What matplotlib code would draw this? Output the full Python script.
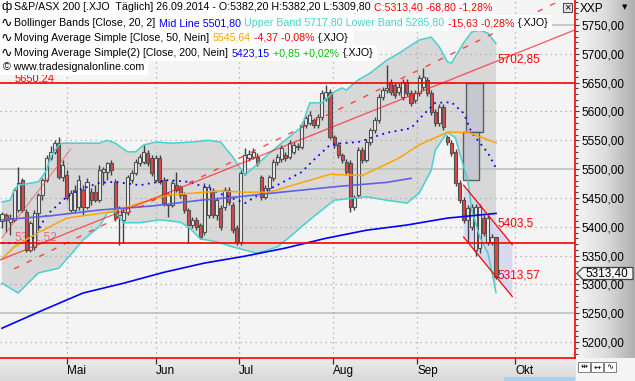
import numpy as np
import matplotlib
matplotlib.use('Agg')
import matplotlib.pyplot as plt
from matplotlib.patches import Rectangle, Polygon
from matplotlib.colors import LinearSegmentedColormap
from matplotlib.ticker import MultipleLocator, FixedLocator, FuncFormatter

plt.rcParams['font.family'] = ['Liberation Sans', 'DejaVu Sans']
plt.rcParams['font.size'] = 7.7

# S&P/ASX 200 daily candles, bar 0 = early April 2014, bar 122 = 26.09.2014
opens = [5410, 5420, 5408, 5412, 5429, 5481, 5426, 5360, 5365, 5424,
         5455, 5481, 5519, 5530, 5545, 5486, 5490, 5429, 5429, 5434,
         5464, 5434, 5460, 5460, 5446, 5495, 5495, 5510, 5478, 5420,
         5412, 5426, 5481, 5493, 5510, 5512, 5528, 5519, 5481, 5519,
         5481, 5438, 5438, 5472, 5469, 5455, 5429, 5403, 5412, 5403,
         5391, 5420, 5460, 5420, 5432, 5434, 5464, 5438, 5398, 5374,
         5493, 5519, 5521, 5521, 5486, 5452, 5467, 5484, 5512, 5517,
         5524, 5521, 5530, 5538, 5538, 5577, 5580, 5585, 5577, 5590,
         5623, 5634, 5556, 5542, 5524, 5512, 5510, 5434, 5455, 5533,
         5516, 5547, 5568, 5585, 5625, 5637, 5651, 5646, 5634, 5625,
         5651, 5632, 5620, 5632, 5643, 5655, 5632, 5599, 5580, 5608,
         5556, 5545, 5530, 5476, 5446, 5412, 5399, 5360, 5363, 5415,
         5374, 5374, 5382.2]
highs = [5426, 5424, 5422, 5467, 5504, 5485, 5430, 5410, 5429, 5459,
         5485, 5524, 5540, 5550, 5556, 5515, 5498, 5464, 5472, 5490,
         5472, 5485, 5467, 5472, 5507, 5504, 5512, 5515, 5483, 5436,
         5430, 5490, 5498, 5517, 5526, 5542, 5533, 5524, 5524, 5524,
         5486, 5460, 5481, 5495, 5472, 5460, 5433, 5417, 5417, 5407,
         5476, 5474, 5467, 5451, 5438, 5469, 5469, 5443, 5403, 5498,
         5536, 5533, 5536, 5528, 5490, 5472, 5490, 5517, 5526, 5541,
         5530, 5550, 5547, 5545, 5582, 5593, 5600, 5589, 5595, 5637,
         5646, 5639, 5560, 5547, 5528, 5517, 5515, 5455, 5538, 5538,
         5552, 5572, 5590, 5630, 5642, 5681, 5656, 5651, 5650, 5656,
         5656, 5637, 5637, 5663, 5675, 5660, 5637, 5604, 5613, 5613,
         5560, 5550, 5535, 5481, 5451, 5437, 5439, 5440, 5439, 5420,
         5420, 5387, 5382.2]
lows = [5398, 5391, 5386, 5408, 5426, 5425, 5356, 5356, 5360, 5395,
        5446, 5477, 5516, 5526, 5483, 5480, 5446, 5425, 5424, 5429,
        5420, 5431, 5438, 5443, 5443, 5472, 5481, 5490, 5410, 5368,
        5371, 5420, 5476, 5490, 5505, 5509, 5505, 5488, 5478, 5474,
        5436, 5417, 5434, 5460, 5450, 5424, 5372, 5398, 5394, 5378,
        5385, 5415, 5415, 5412, 5394, 5429, 5438, 5389, 5369, 5369,
        5490, 5514, 5517, 5505, 5447, 5448, 5462, 5479, 5507, 5512,
        5514, 5517, 5526, 5533, 5535, 5572, 5576, 5572, 5572, 5586,
        5619, 5552, 5537, 5519, 5510, 5490, 5426, 5429, 5450, 5510,
        5512, 5542, 5563, 5580, 5620, 5632, 5629, 5624, 5629, 5620,
        5627, 5610, 5615, 5627, 5638, 5627, 5594, 5575, 5575, 5568,
        5542, 5523, 5471, 5441, 5407, 5371, 5394, 5350, 5354, 5384,
        5368, 5369, 5309.8]
closes = [5422, 5412, 5415, 5464, 5476, 5429, 5360, 5406, 5424, 5455,
          5481, 5519, 5530, 5545, 5486, 5507, 5450, 5458, 5464, 5481,
          5434, 5478, 5446, 5446, 5498, 5500, 5510, 5498, 5415, 5432,
          5426, 5486, 5493, 5512, 5521, 5530, 5510, 5493, 5519, 5478,
          5441, 5455, 5476, 5464, 5455, 5429, 5403, 5412, 5399, 5382,
          5469, 5469, 5420, 5446, 5399, 5464, 5443, 5394, 5374, 5493,
          5524, 5526, 5530, 5510, 5452, 5467, 5486, 5512, 5521, 5537,
          5519, 5545, 5542, 5540, 5577, 5589, 5594, 5577, 5590, 5632,
          5634, 5556, 5542, 5524, 5516, 5495, 5434, 5450, 5533, 5516,
          5547, 5568, 5585, 5625, 5637, 5641, 5634, 5629, 5642, 5651,
          5632, 5615, 5632, 5658, 5660, 5632, 5599, 5580, 5608, 5573,
          5547, 5528, 5476, 5446, 5412, 5432, 5434, 5434, 5434, 5389,
          5415, 5382.2, 5313.4]

# Bollinger Bands (20, 2)
bb_upper_idx = [0, 2, 3, 4, 9, 11, 12, 14, 15, 24, 26, 28, 31, 33, 35, 38, 42, 47, 51, 54,
                57, 60, 62, 65, 69, 74, 76, 79, 82, 84, 85, 88, 91, 95, 98, 103, 106, 108,
                110, 111, 114, 116, 118, 120, 122]
bb_upper = [5443, 5446, 5464, 5472, 5478, 5498, 5521, 5542, 5545, 5545, 5550, 5545, 5530,
            5530, 5542, 5547, 5545, 5547, 5550, 5547, 5521, 5490, 5502, 5521, 5545, 5573,
            5615, 5615, 5634, 5641, 5637, 5655, 5667, 5689, 5701, 5724, 5729, 5712, 5686,
            5684, 5719, 5738, 5741, 5736, 5717.8]
bb_lower_idx = [0, 4, 9, 14, 18, 20, 24, 26, 28, 30, 34, 39, 44, 46, 49, 53, 57, 63, 68, 71,
                76, 82, 90, 95, 100, 103, 106, 107, 110, 112, 113, 115, 116, 118, 120, 121, 122]
bb_lower = [5302, 5285, 5320, 5328, 5360, 5377, 5400, 5424, 5426, 5407, 5407, 5412, 5408,
            5400, 5379, 5374, 5365, 5354, 5365, 5382, 5412, 5446, 5452, 5446, 5441, 5458,
            5498, 5533, 5564, 5554, 5528, 5481, 5429, 5382, 5354, 5320, 5285.8]
bb_mid_idx = [0, 5, 8, 11, 16, 19, 24, 28, 34, 41, 46, 51, 54, 60, 64, 69, 74, 77, 81, 84,
              88, 95, 101, 104, 107, 111, 114, 116, 120, 122]
bb_mid = [5372, 5372, 5382, 5420, 5452, 5464, 5476, 5478, 5472, 5481, 5478, 5467, 5457,
          5441, 5458, 5476, 5495, 5516, 5542, 5545, 5547, 5563, 5571, 5594, 5615, 5616,
          5597, 5563, 5528, 5501.8]

# moving averages
sma50_idx = [0, 3, 9, 16, 27, 34, 41, 54, 60, 66, 81, 89, 98, 103, 110, 115, 122]
sma50 = [5344, 5365, 5390, 5415, 5426, 5441, 5455, 5462, 5460, 5460, 5491, 5489, 5519,
         5542, 5564, 5564, 5545.64]
sma200_idx = [0, 10, 20, 30, 40, 50, 60, 70, 80, 90, 100, 110, 122]
sma200 = [5224, 5255, 5285, 5302, 5321, 5337, 5349, 5363, 5380, 5394, 5403, 5415, 5423.15]
avg_line_idx = [0, 12, 24, 37, 49, 57, 69, 83, 95, 101]
avg_line = [5412, 5419, 5429, 5436, 5446, 5451, 5460, 5470, 5477, 5484]

# drawing tools
hlevels = [5650.24, 5371.52]
trend_solid_idx = [-1, 142]
trend_solid = [5341, 5743]
trend_dash_idx = [3, 138]
trend_dash = [5327, 5793]
trend_steep_idx = [0, 17]
trend_steep = [5381, 5535]
channel_idx = [114, 126]
channel_upper = [5472, 5369]
channel_lower = [5382, 5279]
box_left = [114.6, 113.8]
box_right = [118.8, 117.8]
box_bottom = [5564, 5481]
box_top = [5650, 5564]

months = ['Mai', 'Jun', 'Jul', 'Aug', 'Sep', 'Okt']
month_pos = [16, 38, 58.5, 81.7, 102.5, 126.7]
price_ticks = list(range(5200, 5751, 50))


def de(v, n=2):
    return f"{v:.{n}f}".replace('.', ',')


W, H = 635, 381
fig = plt.figure(figsize=(W / 100, H / 100), dpi=100)
fig.patch.set_facecolor('#f0f0f0')


def fx(px):
    return px / W


def fy(py):
    return 1 - py / H


# panel backgrounds
bg = fig.add_axes([0, 0, 1, 1], zorder=-5)
bg.set_axis_off()
side = LinearSegmentedColormap.from_list('side', ['#f4f4f4', '#dcdcdc', '#b0b0b0'])
bottom = LinearSegmentedColormap.from_list('bottom', ['#ececec', '#d8d8d8'])
bg.imshow(np.linspace(0, 1, 64)[None, :], extent=(576, 635, 381, 0), cmap=side, aspect='auto')
bg.imshow(np.linspace(0, 1, 16)[:, None], extent=(0, 576, 381, 358), cmap=bottom, aspect='auto')
bg.add_patch(Rectangle((576, 358), 59, 23, facecolor='#f4f4f4', edgecolor='none'))
bg.add_patch(Rectangle((504, 377), 71, 4, facecolor='#a8d0f0', edgecolor='none'))
bg.set_xlim(0, W)
bg.set_ylim(H, 0)

ax = fig.add_axes([0, fy(358), 575 / W, 358 / H])
ax.set_facecolor('#f4f4f4')
ax.set_xlim(-0.49, 141.5)
ax.set_ylim(5172.3, 5793.4)

# bollinger fill
ax.fill(bb_upper_idx + bb_lower_idx[::-1], bb_upper + bb_lower[::-1],
        color='#d8d8d8', lw=0, zorder=1)

# grid
for v in price_ticks:
    if v % 250 == 0:
        ax.axhline(v, color='#b4c2b4', lw=1.1, zorder=1.5)
    else:
        ax.axhline(v, color='#a8a8a8', lw=0.9, ls=(0, (1, 3)), zorder=1.5)
for m in month_pos:
    ax.axvline(m, color='#a8a8a8', lw=0.9, ls=(0, (1, 3)), zorder=1.5)

# channel
cx = channel_idx + channel_idx[::-1]
cy = channel_upper + channel_lower[::-1]
ax.fill(cx, cy, color='#d4d4f0', alpha=0.85, lw=0, zorder=2)
ax.plot(channel_idx, channel_upper, color='red', lw=0.9, zorder=4.6)
ax.plot(channel_idx, channel_lower, color='red', lw=0.9, zorder=4.6)

for l, r, b, t in zip(box_left, box_right, box_bottom, box_top):
    ax.add_patch(Rectangle((l, b), r - l, t - b, facecolor='#c6c6d2', edgecolor='#505050',
                           lw=1, alpha=0.9, zorder=2.2))

# candles
for i, (o, h, l, c) in enumerate(zip(opens, highs, lows, closes)):
    ax.plot([i, i], [l, h], color='#404040', lw=1, zorder=3.8, solid_capstyle='butt')
    up = c >= o
    ax.add_patch(Rectangle((i - 0.38, min(o, c)), 0.76, max(abs(c - o), 0.8),
                           facecolor='#eeeeee' if up else '#e04646',
                           edgecolor='#505050', lw=0.8, zorder=4))

# indicators
ax.plot(bb_upper_idx, bb_upper, color='#48d0d0', lw=1.1, zorder=4.2)
ax.plot(bb_lower_idx, bb_lower, color='#48d0d0', lw=1.1, zorder=4.2)
ax.plot(bb_mid_idx, bb_mid, color='#0000ff', lw=1.3, ls=(0, (1, 2.5)), zorder=4.2)
ax.plot(sma50_idx, sma50, color='#ffa500', lw=1.1, zorder=4.2)
ax.plot(sma200_idx, sma200, color='#0000ff', lw=1.2, zorder=4.2)
ax.plot(avg_line_idx, avg_line, color='#6060e8', lw=1.2, zorder=4.2)

# trend lines
ax.plot(trend_solid_idx, trend_solid, color='#ff2020', lw=0.9, alpha=0.75, zorder=4.4)
ax.plot(trend_dash_idx, trend_dash, color='#ff2020', lw=1.0, alpha=0.8, ls=(0, (4, 6)), zorder=4.4)
ax.plot(trend_steep_idx, trend_steep, color='#ff4040', lw=0.8, alpha=0.6, zorder=4.4)
for v in hlevels:
    ax.axhline(v, color='#ff0000', lw=1.2, zorder=4.5)

# level labels
ax.text(3.2, 5658, de(hlevels[0]), color='red', fontsize=8, va='center', zorder=5)
ax.text(3.2, 5381, de(hlevels[1]), color='#e05050', alpha=0.75, fontsize=8.5, va='center', zorder=3.5)
ax.text(122.3, 5691, '5702,85', color='red', fontsize=8.5, va='center', zorder=5)
ax.text(122.3, 5405, '5403,5', color='red', fontsize=8.5, va='center', zorder=5)
ax.text(122.3, 5315, '5313,57', color='red', fontsize=8.5, va='center', zorder=5)

# axes styling
for s in ['left', 'top']:
    ax.spines[s].set_visible(False)
for s in ['right', 'bottom']:
    ax.spines[s].set_color('#ff0000')
    ax.spines[s].set_linewidth(1.2)
ax.yaxis.tick_right()
ax.yaxis.set_major_locator(FixedLocator(price_ticks))
ax.yaxis.set_minor_locator(MultipleLocator(10))
ax.yaxis.set_major_formatter(FuncFormatter(lambda v, p: de(v)))
ax.tick_params(axis='y', which='major', direction='out', length=3, width=0.8, pad=2,
               color='#404040', labelsize=8.5)
ax.tick_params(axis='y', which='minor', direction='out', length=1.8, width=0.8, color='#404040')
ax.set_xticks(month_pos)
ax.set_xticklabels(months, ha='left')
ax.tick_params(axis='x', direction='out', length=4, width=0.9, pad=1, color='#303030', labelsize=8.5)

# legend rows
renderer = fig.canvas.get_renderer()


def seg_row(x, y, parts):
    for s, c in parts:
        t = fig.text(fx(x), fy(y), s, color=c, ha='left', va='center', zorder=7)
        x = t.get_window_extent(renderer=renderer).x1 + 3.5
    fig.add_artist(Rectangle((0, fy(y + 7.5)), fx(x), 15 / H, transform=fig.transFigure,
                             facecolor='white', edgecolor='none', zorder=6))


chg = closes[-1] - closes[-2]
seg_row(14, 7, [(f"S&P/ASX 200 [.XJO  Täglich] 26.09.2014 - O:{de(opens[-1])} H:{de(highs[-1])} "
                 f"L:{de(lows[-1])}", 'black'),
                (f"C:{de(closes[-1])} {de(chg)} {de(chg / closes[-2] * 100)}%", 'red')])
seg_row(14, 23, [("Bollinger Bands [Close, 20, 2]", 'black'), (f"Mid Line {de(bb_mid[-1])}", '#0000ff'),
                 (f"Upper Band {de(bb_upper[-1])} Lower Band {de(bb_lower[-1])}", '#48d0d0'),
                 ("-15,63 -0,28%", 'red'), ("{.XJO}", 'black')])
seg_row(14, 38, [("Moving Average Simple [Close, 50, Nein]", 'black'), (de(sma50[-1]), '#ffa500'),
                 ("-4,37 -0,08%", 'red'), ("{.XJO}", 'black')])
seg_row(14, 53, [("Moving Average Simple(2) [Close, 200, Nein]", 'black'), (de(sma200[-1]), '#0000ff'),
                 ("+0,85 +0,02%", '#00c000'), ("{.XJO}", 'black')])
seg_row(3, 67.5, [("© www.tradesignalonline.com", 'black')])
fig.text(fx(2), fy(7), 'ф', ha='left', va='center', fontsize=9, zorder=7)
for yy in [23, 38, 53]:
    fig.text(fx(1), fy(yy), '∿', ha='left', va='center', fontsize=10, zorder=7,
             family=['DejaVu Sans'])

# right panel header, close box, price tag
fig.text(fx(580), fy(9), 'XXP', ha='left', va='center', fontsize=8.5)
fig.text(fx(625), fy(7), '▼', ha='center', va='center', fontsize=5, family=['DejaVu Sans'])
fig.add_artist(Rectangle((fx(563), fy(12)), 9 / W, 9 / H, transform=fig.transFigure,
                         facecolor='#e8e8e8', edgecolor='#505050', lw=0.8, zorder=8))
fig.text(fx(567.5), fy(7.5), '×', ha='center', va='center', fontsize=8, zorder=9)
tag = [(577, 273.5), (583, 267.5), (633, 267.5), (633, 279.5), (583, 279.5)]
fig.add_artist(Polygon([(fx(a), fy(b)) for a, b in tag], closed=True, transform=fig.transFigure,
                       facecolor='#f6f6f6', edgecolor='#404040', lw=0.9, zorder=8))
fig.text(fx(607), fy(273.5), de(closes[-1]), ha='center', va='center', fontsize=8.5, zorder=9)

# bottom right buttons
for k, g in enumerate(['⇹', '↔', '∿']):
    x0 = 578 + k * 13
    fig.add_artist(Rectangle((fx(x0), fy(372)), 12 / W, 10 / H, transform=fig.transFigure,
                             facecolor='white', edgecolor='#808080', lw=0.7, zorder=8))
    fig.text(fx(x0 + 6), fy(367), g, ha='center', va='center', fontsize=6, zorder=9,
             family=['DejaVu Sans'])

fig.savefig('out.png', dpi=100)
